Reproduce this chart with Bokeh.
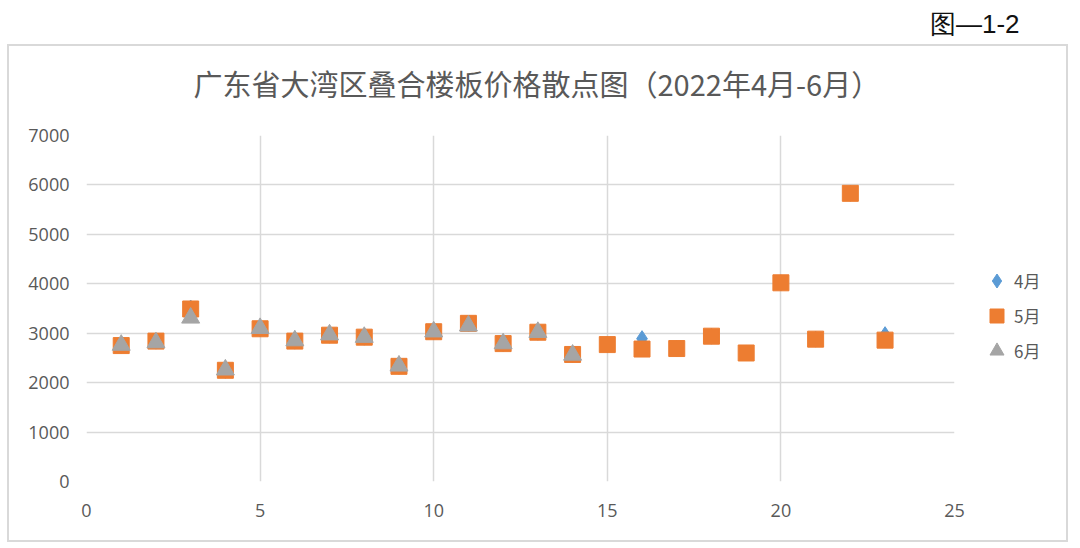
from bokeh.plotting import figure
from bokeh.models import (Range1d, FixedTicker, Legend, LegendItem, ColumnDataSource,
                          Title, InlineStyleSheet)
from bokeh.embed import file_html
from bokeh.resources import INLINE

# ---- data ----
x_apr = list(range(1, 24))
apr = [2750, 2840, 3510, 2250, 3090, 2840, 2960, 2920, 2330, 3030, 3200, 2790,
       3020, 2570, 2770, 2890, 2690, 2940, 2600, 4020, 2880, 5830, 2970]
x_may = list(range(1, 24))
may = [2750, 2840, 3490, 2250, 3090, 2840, 2960, 2920, 2330, 3030, 3200, 2790,
       3020, 2570, 2770, 2680, 2690, 2940, 2600, 4020, 2880, 5830, 2860]
x_jun = list(range(1, 15))
jun = [2760, 2810, 3310, 2260, 3100, 2850, 2970, 2920, 2340, 3030, 3150, 2790,
       3020, 2560]
series_names = ["4月", "5月", "6月"]
x_ticks = [0, 5, 10, 15, 20, 25]
y_ticks = [0, 1000, 2000, 3000, 4000, 5000, 6000, 7000]
title_text = "广东省大湾区叠合楼板价格散点图（2022年4月-6月）"
fig_label = "图—1-2"

TXT = "#595959"
GRID = "#D9D9D9"

border_css = InlineStyleSheet(css="""
:host { position: relative; }
:host::after {
  content: '';
  position: absolute;
  left: 7px; top: 44px; width: 1061px; height: 498px;
  border: 2px solid #D9D9D9;
  box-sizing: border-box;
  pointer-events: none;
}
""")

p = figure(frame_width=868, frame_height=346, output_backend="svg",
           toolbar_location=None, title=None,
           x_range=Range1d(0, 25), y_range=Range1d(0, 7000),
           min_border_left=86, min_border_right=122, min_border_top=135,
           min_border_bottom=65)
p.stylesheets = [border_css]
p.outline_line_color = None
p.background_fill_color = "white"
p.border_fill_color = "white"

for ax in (p.xaxis[0], p.yaxis[0]):
    ax.axis_line_color = None
    ax.major_tick_line_color = None
    ax.minor_tick_line_color = None
    ax.major_label_text_color = TXT
    ax.major_label_text_font = "Open Sans"
    ax.major_label_text_font_size = "18px"
p.xaxis[0].ticker = FixedTicker(ticks=x_ticks)
p.yaxis[0].ticker = FixedTicker(ticks=y_ticks)
p.xaxis[0].major_label_standoff = 16
p.yaxis[0].major_label_standoff = 11

p.xgrid[0].ticker = FixedTicker(ticks=x_ticks)
p.ygrid[0].ticker = FixedTicker(ticks=y_ticks)
for g in (p.xgrid[0], p.ygrid[0]):
    g.grid_line_color = GRID
    g.grid_line_width = 1.5

s_apr = ColumnDataSource(dict(x=x_apr, y=apr))
s_may = ColumnDataSource(dict(x=x_may, y=may))
s_jun = ColumnDataSource(dict(x=x_jun, y=jun))

r_apr = p.scatter("x", "y", source=s_apr, marker="diamond", size=16,
                  fill_color="#5B9BD5", line_color="#5B9BD5")
r_may = p.scatter("x", "y", source=s_may, marker="square", size=16,
                  fill_color="#ED7D31", line_color="#ED7D31")
r_jun = p.scatter("x", "y", source=s_jun, marker="triangle", size=18,
                  fill_color="#A5A5A5", line_color="#A5A5A5")

legend = Legend(items=[LegendItem(label=series_names[0], renderers=[r_apr]),
                       LegendItem(label=series_names[1], renderers=[r_may]),
                       LegendItem(label=series_names[2], renderers=[r_jun])],
                location=(25, 113), orientation="vertical",
                label_text_font="Noto Sans CJK SC", label_text_font_size="17px",
                label_text_color=TXT, glyph_width=35, glyph_height=35,
                label_height=20, spacing=0, padding=0, margin=0,
                label_standoff=0, border_line_color=None,
                background_fill_alpha=0)
p.add_layout(legend, "right")

p.add_layout(Title(text=title_text, align="left", offset=107,
                   text_font="Noto Sans CJK SC",
                   text_font_size="29px", text_font_style="normal",
                   text_color=TXT, standoff=63), "above")
p.add_layout(Title(text=fig_label, align="right", offset=-65,
                   text_font="Liberation Sans",
                   text_font_size="26px", text_font_style="normal",
                   text_color="#111111", standoff=-21), "above")

open("out.html", "w").write(file_html(p, INLINE))
